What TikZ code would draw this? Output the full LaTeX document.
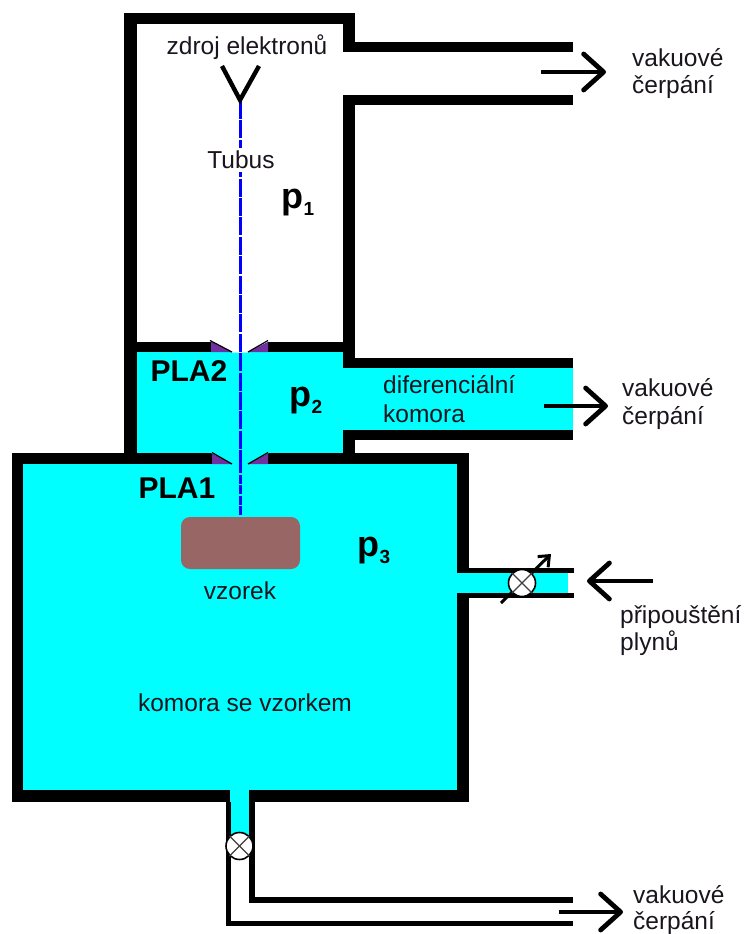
\documentclass[tikz,border=0pt]{standalone}
\usepackage{fontspec}
\setmainfont{Liberation Sans}
\usetikzlibrary{arrows.meta}
\definecolor{chamber}{RGB}{0,255,255}
\definecolor{samplec}{RGB}{153,102,102}
\definecolor{beamc}{RGB}{0,0,255}
\definecolor{pla}{RGB}{112,48,160}
\definecolor{txt}{RGB}{25,20,30}
\newcommand{\wall}[4]{\fill[black] (#1,#2) rectangle (#3,#4);}
\newcommand{\plabel}[1]{\textbf{\fontsize{36}{40}\selectfont p}\raisebox{-7pt}{\fontsize{19}{22}\selectfont\textbf{#1}}}
\tikzset{
  label text/.style={font=\fontsize{24.5}{28}\selectfont, text=txt, inner sep=0pt},
  left text/.style={label text, anchor=west},
  pla text/.style={font=\fontsize{30}{34}\selectfont\bfseries, text=black, inner sep=0pt},
  pump arrow/.style={line width=4.8pt, -{Straight Barb[length=20pt,width=36pt,line width=4.8pt,round]}},
  valve/.style={circle, draw=black, line width=1.6pt, fill=white, minimum size=27pt, inner sep=0pt},
  valve cross/.style={line width=1.2pt, black!75},
  beam upper/.style={line width=3.4pt, beamc, dash pattern=on 18pt off 1.4pt},
  beam lower/.style={line width=2.6pt, beamc, dash pattern=on 9pt off 1.6pt},
}
\begin{document}
\begin{tikzpicture}[x=1pt,y=-1pt]
\useasboundingbox (0,0) rectangle (745,934);
% upper tube walls
\wall{124}{13}{355}{24}
\wall{124}{13}{137}{456}
\wall{343}{13}{355}{52}
\wall{343}{42}{573}{52}
\wall{343}{95}{573}{105}
\wall{343}{95}{355}{368}
% differential chamber
\fill[chamber] (137,352) rectangle (343,453);
\fill[chamber] (343,368) rectangle (573,430);
\wall{124}{342}{355}{352}
\wall{343}{358}{573}{368}
\wall{343}{430}{573}{440}
\wall{343}{430}{355}{456}
% main chamber
\fill[chamber] (23,464) rectangle (457,790);
\wall{12}{453}{469}{464}
\wall{12}{453}{23}{802}
\wall{457}{453}{469}{802}
\wall{12}{790}{469}{802}
% side inlet
\wall{457}{568}{574}{573}
\wall{457}{593}{574}{598}
\fill[chamber] (456,573) rectangle (568,593);
% bottom outlet
\fill[chamber] (230,788) rectangle (249,835);
\wall{226}{802}{231}{926}
\wall{249}{802}{255}{903}
\wall{249}{897}{573}{903}
\wall{226}{921}{573}{926}
% apertures
\fill[white] (210,341) -- (232,352.5) -- (248,352.5) -- (270,341) -- cycle;
\fill[chamber] (210,452.5) -- (232,464.5) -- (248,464.5) -- (270,452.5) -- cycle;
\fill[pla] (211,342) -- (232,352) -- (211,352) -- cycle;
\fill[pla] (248,352) -- (268,342) -- (268,352) -- cycle;
\fill[pla] (212,454) -- (232,464) -- (212,464) -- cycle;
\fill[pla] (248,464) -- (268,454) -- (268,464) -- cycle;
\draw[line width=1.2pt] (210,340.5) -- (232,352);
\draw[line width=1.2pt] (248,352) -- (268,340.5);
\draw[line width=1.2pt] (212,452.5) -- (232,464);
\draw[line width=1.2pt] (248,464) -- (268,452.5);
% sample
\node[fill=samplec, rounded corners=9pt, minimum width=119pt, minimum height=52pt, inner sep=0pt] (sample) at (240.5,543) {};
% beam and source
\coordinate (beamtop) at (240.5,101);
\coordinate (beammid) at (240.5,464);
\coordinate (beamend) at (240.5,516);
\draw[beam upper] (beamtop) -- (beammid);
\draw[beam lower] (beammid) -- (beamend);
\coordinate (srcl) at (222,66);
\coordinate (srcm) at (240,100);
\coordinate (srcr) at (259,66);
\draw[line width=4.4pt, line join=miter] (srcl) -- (srcm) -- (srcr);
% pumps
\coordinate (a1s) at (541,72);  \coordinate (a1e) at (606,72);
\coordinate (a2s) at (544,406); \coordinate (a2e) at (608,406);
\coordinate (a3s) at (559,912); \coordinate (a3e) at (623,912);
\coordinate (a4s) at (653,581); \coordinate (a4e) at (587,581);
\draw[pump arrow] (a1s) -- (a1e);
\draw[pump arrow] (a2s) -- (a2e);
\draw[pump arrow] (a3s) -- (a3e);
\draw[pump arrow] (a4s) -- (a4e);
% valves
\coordinate (na) at (501,603);
\coordinate (nb) at (551,554);
\draw[line width=3pt, -{Straight Barb[length=9pt,width=15pt,line width=3pt]}] (na) -- (nb);
\node[valve] (v1) at (522,583) {};
\draw[valve cross] (v1.45) -- (v1.225);
\draw[valve cross] (v1.135) -- (v1.315);
\node[valve] (v2) at (239.5,846) {};
\draw[valve cross] (v2.45) -- (v2.225);
\draw[valve cross] (v2.135) -- (v2.315);
% labels
\node[label text] (source) at (247,47) {zdroj elektronů};
\node[label text, fill=white, inner ysep=3pt] (tubus) at (241,160) {Tubus};
\node[inner sep=0pt] (p1) at (298,203) {\plabel{1}};
\node[inner sep=0pt] (p2) at (306,401) {\plabel{2}};
\node[inner sep=0pt] (p3) at (374,551) {\plabel{3}};
\node[pla text] (pla2) at (189,371) {PLA2};
\node[pla text] (pla1) at (177,488) {PLA1};
\node[left text] (dif1) at (383,385) {diferenciální};
\node[left text] (dif2) at (383,414) {komora};
\node[label text] (vz) at (240,591) {vzorek};
\node[label text] (km) at (245,703) {komora se vzorkem};
\node[left text] (vak1) at (632,58) {vakuové};
\node[left text] (cer1) at (632,87) {čerpání};
\node[left text] (vak2) at (622,388) {vakuové};
\node[left text] (cer2) at (622,418) {čerpání};
\node[left text] (vak3) at (633,895) {vakuové};
\node[left text] (cer3) at (633,923) {čerpání};
\node[left text] (pri) at (620,617) {připouštění};
\node[left text] (ply) at (620,643) {plynů};
\end{tikzpicture}
\end{document}
